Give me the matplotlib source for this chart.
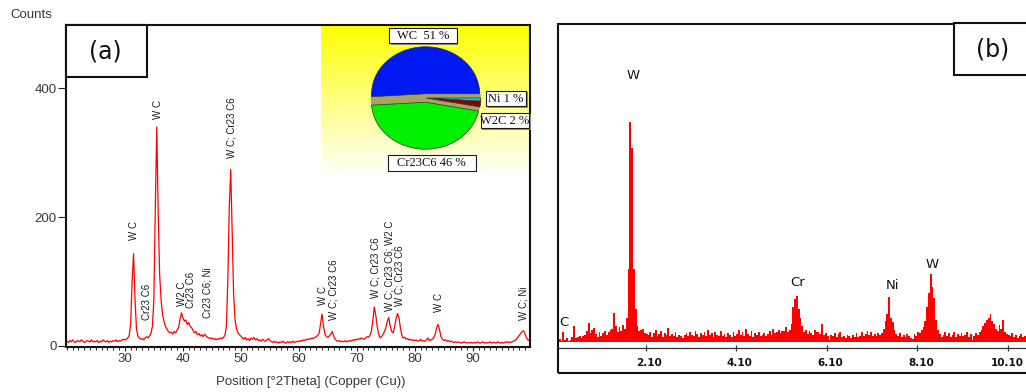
import numpy as np
import matplotlib
matplotlib.use("Agg")
import matplotlib.pyplot as plt
from matplotlib.patches import Rectangle, Ellipse
from matplotlib.ticker import MultipleLocator, FixedLocator
import matplotlib.transforms as mtransforms

# ---------------------------------------------------------------- data
# (a) XRD pattern, counts every 0.25 deg 2-theta from 20 deg
xrd_start = 20.0
xrd_step = 0.25
xrd_counts = [
    7, 5, 8, 6, 9, 6, 5, 8, 7, 6, 9, 7, 5, 6, 8, 7, 6, 9, 6, 7,              # 20
    6, 8, 5, 7, 6, 9, 7, 6, 8, 5, 7, 6, 8, 7, 9, 6, 8, 7, 9, 10,             # 25
    9, 10, 12, 16, 35, 100, 143, 72, 26, 15, 12, 10, 11, 9, 12, 14, 12, 15, 19, 30,   # 30
    72, 216, 340, 205, 110, 70, 48, 38, 30, 26, 22, 20, 21, 18, 22, 20, 24, 28, 40, 51,  # 35
    44, 38, 40, 33, 36, 30, 28, 24, 20, 22, 17, 19, 15, 17, 14, 18, 15, 13, 12, 11,     # 40
    12, 10, 11, 9, 11, 10, 12, 11, 13, 16, 30, 100, 215, 274, 175, 80, 40, 26, 20, 17,  # 45
    15, 12, 10, 13, 9, 11, 8, 12, 10, 13, 9, 11, 8, 9, 7, 10, 8, 7, 9, 11,   # 50
    8, 6, 5, 7, 5, 6, 4, 6, 5, 7, 5, 4, 6, 5, 6, 5, 7, 5, 6, 7,              # 55
    6, 8, 7, 9, 8, 10, 9, 11, 10, 12, 11, 13, 14, 16, 20, 35, 49, 30, 18, 14,  # 60
    13, 15, 18, 22, 15, 10, 8, 7, 8, 6, 7, 6, 8, 6, 7, 8, 7, 9, 8, 10,       # 65
    9, 11, 10, 12, 11, 10, 12, 14, 13, 16, 22, 40, 60, 48, 30, 18, 12, 14, 17, 22,  # 70
    28, 38, 44, 30, 22, 20, 28, 42, 50, 44, 28, 16, 12, 13, 10, 11, 9, 10, 8, 9,    # 75
    8, 9, 7, 8, 10, 7, 8, 7, 9, 12, 8, 9, 10, 12, 18, 28, 33, 25, 14, 10,    # 80
    8, 9, 7, 8, 6, 7, 6, 5, 6, 5, 6, 5, 4, 5, 6, 5, 4, 5, 4, 5,              # 85
    4, 5, 4, 6, 5, 4, 5, 6, 4, 5, 4, 5, 6, 4, 5, 5, 4, 6, 5, 4,              # 90
    5, 4, 5, 6, 5, 6, 5, 6, 7, 8, 10, 13, 16, 19, 22, 23, 18, 12, 9, 8,      # 95
]

# phase identifications written above the reflections
peak_labels = ["W C", "Cr23 C6", "W C", "W2 C", "Cr23 C6", "Cr23 C6; Ni",
               "W C; Cr23 C6", "W C", "W C; Cr23 C6", "W C; Cr23 C6",
               "W C; Cr23 C6; W2 C", "W C; Cr23 C6", "W C", "W C; Ni"]
peak_label_pos = [31.58, 33.77, 35.71, 39.80, 41.34, 44.22, 48.40, 64.23,
                  65.90, 73.18, 75.54, 77.37, 84.08, 98.70]
peak_label_base = [164, 40, 353, 61, 59, 43, 291, 63, 40, 74, 54, 61, 53, 40]

# phase fractions (inset pie)
phase_names = ["WC", "Cr23C6", "W2C", "Ni"]
phase_pct = [51, 46, 2, 1]
phase_colors = ["#0018f2", "#00f000", "#8a0000", "#00e0f0"]

# (b) EDS spectrum, counts every 0.04 keV from 0.16 keV
eds_start = 0.16
eds_step = 0.04
eds_counts = [
    5, 12, 3, 45, 8, 15, 4, 10, 22, 70, 18, 20, 28, 18, 25, 30, 48, 86, 40, 55, 62, 35, 22, 45, 25,
    38, 50, 30, 42, 55, 60, 130, 70, 45, 65, 50, 75, 60, 110, 330, 1000, 880, 330, 150, 70, 50, 55, 60, 40, 35,
    30, 45, 20, 38, 55, 25, 35, 48, 22, 40, 30, 62, 28, 35, 25, 45, 20, 32, 28, 15, 30, 38, 25, 42, 30,
    28, 50, 35, 22, 40, 30, 45, 25, 55, 32, 38, 20, 42, 30, 25, 48, 28, 35, 22, 40, 30, 20, 45, 28, 35,
    55, 30, 42, 25, 60, 35, 28, 50, 22, 38, 30, 45, 25, 32, 40, 28, 35, 50, 30, 60, 38, 45, 55, 40, 48,
    50, 65, 45, 55, 80, 160, 195, 209, 150, 110, 70, 45, 55, 35, 50, 40, 30, 55, 42, 45, 35, 80, 30, 40, 25,
    8, 30, 25, 40, 22, 35, 45, 20, 28, 18, 32, 25, 15, 30, 22, 38, 20, 28, 45, 25, 35, 50, 30, 42, 28,
    35, 25, 40, 30, 38, 60, 95, 125, 205, 110, 90, 55, 35, 28, 40, 22, 30, 20, 35, 25, 18, 12, 35, 28, 45,
    40, 55, 65, 95, 160, 220, 306, 250, 200, 100, 55, 35, 20, 30, 45, 25, 38, 20, 30, 42, 22, 35, 28, 40, 25,
    30, 45, 20, 35, 10, 25, 38, 30, 45, 55, 70, 85, 100, 110, 125, 95, 80, 60, 50, 75, 60, 100, 45, 35, 30,
    25, 40, 20, 30, 15, 28, 35, 20, 25, 18,
]
eds_ticks = [2.10, 4.10, 6.10, 8.10, 10.10]
eds_lines = ["C", "W", "Cr", "Ni", "W"]
eds_line_energy = [0.30, 1.83, 5.45, 7.55, 8.42]
eds_line_height = [87, 1209, 267, 254, 350]

# ---------------------------------------------------------------- figure
W, H = 1026, 392
fig = plt.figure(figsize=(W / 100, H / 100), dpi=100)
fig.patch.set_facecolor("white")


def fx(px):
    return px / W


def fy(py):
    return 1 - py / H


def fig_rect(x0, y0, x1, y1, **kw):
    r = Rectangle((fx(x0), fy(y1)), (x1 - x0) / W, (y1 - y0) / H,
                  transform=fig.transFigure, **kw)
    fig.patches.append(r)
    return r


SANS = ["Liberation Sans", "DejaVu Sans"]
GREY = "#3a3a3a"

# ---------------------------------------------------------------- (a) XRD
two_theta = xrd_start + xrd_step * np.arange(len(xrd_counts))

# yellow-to-white backdrop of the inset
bg = fig.add_axes([fx(321), fy(176), (530 - 321) / W, (176 - 25) / H], zorder=0.5)
grad = np.linspace(0, 1, 256)
img = np.ones((256, 2, 3))
img[:, :, 2] = grad[:, None]
bg.imshow(img, aspect="auto", extent=[0, 1, 0, 1], origin="upper")
bg.set_axis_off()

axa = fig.add_axes([fx(66), fy(347.3), (530 - 66) / W, (347.3 - 25) / H], zorder=1)
axa.patch.set_alpha(0)
axa.plot(two_theta, xrd_counts, color="#ff0000", lw=0.9)
axa.set_xlim(19.85, 99.85)
axa.set_ylim(-2.5, 498.4)
for s in axa.spines.values():
    s.set_linewidth(1.5)
    s.set_color("#111111")
axa.set_yticks([0, 200, 400])
axa.xaxis.set_major_locator(FixedLocator([30, 40, 50, 60, 70, 80, 90]))
axa.xaxis.set_minor_locator(MultipleLocator(1))
axa.tick_params(axis="y", length=5.5, width=0.8, pad=1.2, labelsize=9.5,
                labelcolor=GREY, color="#222222")
axa.tick_params(axis="x", which="major", length=3.0, width=0.8, pad=0.8,
                labelsize=9.5, labelcolor=GREY, color="#222222")
axa.tick_params(axis="x", which="minor", length=2.2, width=0.7, color="#222222")
for lab in axa.get_xticklabels() + axa.get_yticklabels():
    lab.set_family(SANS)

for txt, xp, yb in zip(peak_labels, peak_label_pos, peak_label_base):
    axa.text(xp, yb, txt, rotation=90, ha="center", va="bottom",
             fontsize=7, family=SANS, color="#1a1a1a")

fig.text(fx(10), fy(15.5), "Counts", ha="left", va="center", fontsize=9.5,
         family=SANS, color=GREY)
fig.text(fx(311), fy(381.5), "Position [°2Theta] (Copper (Cu))", ha="center",
         va="center", fontsize=9.5, family=SANS, color=GREY)

# panel tag (a)
fig_rect(66, 25, 147, 77, facecolor="white", edgecolor="#111111", lw=1.5, zorder=5)
fig.text(fx(105), fy(52), "(a)", ha="center", va="center", fontsize=17,
         family="DejaVu Sans", color="#111111", zorder=6)

# inset pie of phase fractions
rx, ry = 54, 47
cx, cy = 425.8, 98
axp = fig.add_axes([fx(cx - 1.1 * rx), fy(cy + 1.1 * ry), 2.2 * rx / W, 2.2 * ry / H],
                   zorder=2)
axp.add_patch(Ellipse((0, -0.02), 2.04, 2.0, facecolor="#a8a262", edgecolor="none"))
axp.pie(phase_pct, colors=phase_colors, startangle=0, counterclock=True,
        explode=[0.09, 0.09, 0.02, 0.02],
        wedgeprops=dict(edgecolor="#303030", linewidth=0.5))
axp.set_aspect("auto")
axp.set_xlim(-1.1, 1.1)
axp.set_ylim(-1.1, 1.1)
axp.set_axis_off()


def pie_tag(x0, y0, x1, y1, text):
    fig_rect(x0 + 1.5, y0 + 1.5, x1 + 1.5, y1 + 1.5, facecolor="#8c8c8c",
             edgecolor="none", zorder=5)
    fig_rect(x0, y0, x1, y1, facecolor="white", edgecolor="#1a1a1a", lw=0.8, zorder=6)
    fig.text(fx((x0 + x1) / 2), fy((y0 + y1) / 2 + 0.5), text, ha="center", va="center",
             fontsize=9, family=["Liberation Serif", "DejaVu Serif"], color="#111111",
             zorder=7)


pie_tag(389, 28.3, 456.7, 43.3, f"{phase_names[0]}  {phase_pct[0]} %")
pie_tag(486, 90.7, 526, 106, f"{phase_names[3]} {phase_pct[3]} %")
pie_tag(480.7, 112.7, 529.3, 128.3, f"{phase_names[2]} {phase_pct[2]} %")
pie_tag(388, 155, 475.7, 170.7, f"{phase_names[1]} {phase_pct[1]} %")

# ---------------------------------------------------------------- (b) EDS
energy = eds_start + eds_step * np.arange(len(eds_counts))
xr = 1045
axb = fig.add_axes([fx(558), fy(348), (xr - 558) / W, (348 - 24) / H], zorder=1)
axb.patch.set_alpha(0)
axb.bar(energy, eds_counts, width=eds_step, color="#ff0000", linewidth=0)
px_per_kev = 45.25
axb.set_xlim(2.10 - (645.7 - 558) / px_per_kev, 2.10 + (xr - 645.7) / px_per_kev)
axb.set_ylim(-(348 - 341.7) / 0.22, (341.7 - 24) / 0.22)
for side in ("left", "right", "top"):
    axb.spines[side].set_visible(False)
axb.spines["bottom"].set_linewidth(0.9)
axb.spines["bottom"].set_color("#333333")
axb.set_yticks([])
axb.set_xticks(eds_ticks)
axb.set_xticklabels([f"{t:.2f}" for t in eds_ticks])
axb.tick_params(axis="x", direction="inout", length=5, width=0.9, color="#333333",
                pad=4.5, labelsize=7.5)
offset = mtransforms.ScaledTranslation(16.5 / 100, 0, fig.dpi_scale_trans)
for lab in axb.get_xticklabels():
    lab.set_fontweight("bold")
    lab.set_family("DejaVu Sans")
    lab.set_color("#111111")
    lab.set_horizontalalignment("right")
    lab.set_transform(lab.get_transform() + offset)

for name, e, h in zip(eds_lines, eds_line_energy, eds_line_height):
    axb.text(e, h, name, ha="center", va="center", fontsize=9.5,
             family="DejaVu Sans", color="#111111")

fig_rect(558, 24, xr, 373.3, facecolor="none", edgecolor="#111111", lw=1.5, zorder=4)
fig_rect(954, 23, xr, 75, facecolor="white", edgecolor="#111111", lw=1.5, zorder=5)
fig.text(fx(993), fy(50), "(b)", ha="center", va="center", fontsize=17,
         family="DejaVu Sans", color="#111111", zorder=6)

fig.savefig("out.png", dpi=100)
